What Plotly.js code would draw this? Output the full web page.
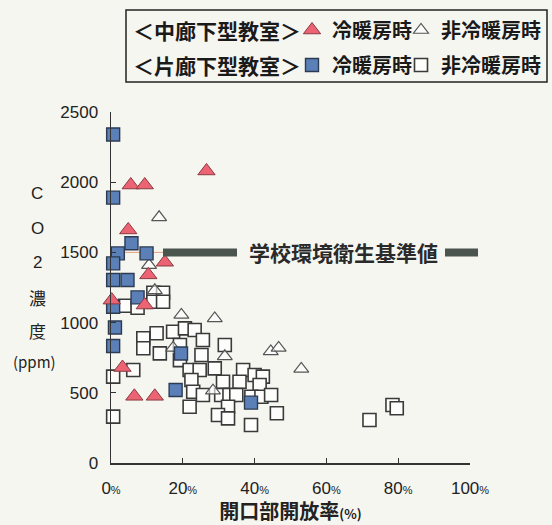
<!DOCTYPE html>
<html>
<head>
<meta charset="utf-8">
<script src="https://cdn.plot.ly/plotly-3.0.1.min.js"></script>
<style>html,body{margin:0;padding:0;background:#f6f6f1;}#chart{width:552px;height:525px;}</style>
</head>
<body>
<div id="chart"></div>
<script>
// ---- data ----
// 中廊下型教室 冷暖房時 (red filled triangles)
const midHeatX = [5.5, 9.4, 26.6, 4.8, 15.0, 10.4, 0.2, 9.4, 3.2, 6.5, 12.2];
const midHeatY = [1980, 1980, 2080, 1660, 1430, 1340, 1160, 1125, 680, 475, 475];
// 中廊下型教室 非冷暖房時 (open triangles)
const midOffX = [13.4, 10.6, 12.2, 19.6, 28.9, 17.3, 31.7, 28.4, 44.5, 46.7, 53.0];
const midOffY = [1750, 1410, 1230, 1055, 1030, 820, 760, 515, 795, 820, 670];
// 片廊下型教室 冷暖房時 (blue filled squares)
const sideHeatX = [0.6, 0.6, 5.7, 1.9, 9.9, 0.6, 0.6, 4.6, 7.4, 0.6, 1.1, 0.6, 18.0, 19.5, 39.0];
const sideHeatY = [2340, 1890, 1565, 1493, 1493, 1422, 1303, 1303, 1180, 1113, 965, 833, 520, 780, 430];
// 片廊下型教室 非冷暖房時 (open squares)
const sideOffX = [3.9, 7.4, 11.8, 14.5, 11.8, 14.5, 12.7, 17.3, 20.6, 23.3, 25.6, 9.0, 9.0, 13.6, 19.2, 19.2,
  25.2, 31.7, 21.9, 24.7, 28.9, 22.4, 31.2, 36.8, 40.0, 35.8, 22.9, 25.6, 30.7, 33.0, 34.9, 21.9, 32.6,
  29.8, 32.6, 39.0, 6.2, 0.6, 0.6, 42.3, 41.4, 39.1, 41.9, 44.6, 46.2, 72.0, 78.4, 79.6];
const sideOffY = [1120, 1106, 1213, 1213, 1149, 1149, 924, 935, 959, 947, 876, 888, 817, 781, 840, 733,
  769, 840, 662, 662, 674, 591, 579, 662, 627, 579, 508, 484, 484, 484, 484, 401, 401,
  342, 318, 271, 662, 615, 330, 615, 556, 472, 472, 484, 354, 306, 413, 390];

const xTickVals = [0, 20, 40, 60, 80, 100];
const xTickLabels = ['0', '20', '40', '60', '80', '100'];
const yTickVals = [0, 500, 1000, 1500, 2000, 2500];
const STANDARD = 1500;   // 学校環境衛生基準値
const standardLabel = '学校環境衛生基準値';
const yTitleParts = ['C', 'O', '2', '濃', '度', '(ppm)'];
const xTitle = '開口部開放率';
const groupMid = '＜中廊下型教室＞';
const groupSide = '＜片廊下型教室＞';
const nameHeat = '冷暖房時';
const nameOff = '非冷暖房時';

// ---- layout helpers (pixel -> paper / container) ----
const FW = 552, FH = 525;
const L = 111, T = 112, W = 359, H = 351;
const px = v => (v - L) / W;
const py = v => (T + H - v) / H;
const cx = v => v / FW;
const cy = v => 1 - v / FH;

const JP = '"Noto Sans CJK JP", "Noto Sans", sans-serif';
const NUM = '"Liberation Sans", Arial, sans-serif';

const traces = [
  {x: sideOffX, y: sideOffY, name: nameOff, legend: 'legend4', type: 'scatter', mode: 'markers', cliponaxis: false,
   marker: {symbol: 'square', size: 13, color: '#fdfdfb', line: {color: '#3a3a3a', width: 1.6}}},
  {x: midOffX, y: midOffY, name: nameOff, legend: 'legend3', type: 'scatter', mode: 'markers', cliponaxis: false,
   marker: {symbol: 'triangle-up', size: 13, color: 'rgba(255,255,255,0.6)', line: {color: '#555', width: 1.2}}},
  {x: sideHeatX, y: sideHeatY, name: nameHeat, legend: 'legend2', type: 'scatter', mode: 'markers', cliponaxis: false,
   marker: {symbol: 'square', size: 13, color: '#5b80b8', line: {color: '#2d3b52', width: 1.4}}},
  {x: midHeatX, y: midHeatY, name: nameHeat, legend: 'legend', type: 'scatter', mode: 'markers', cliponaxis: false,
   marker: {symbol: 'triangle-up', size: 15, color: '#ec6474', line: {color: '#8a3a40', width: 1}}}
];

const legFont = {family: JP, size: 20, color: '#1a1a1a', weight: 'bold'};
const legTitleFont = {family: JP, size: 21, color: '#1a1a1a', weight: 'bold'};

const annotations = [];
const yTitleY = [193, 228, 262, 297, 330, 361];
yTitleParts.forEach((t, i) => {
  annotations.push({text: t, xref: 'paper', yref: 'paper', x: px(i === 5 ? 34 : 37), y: py(yTitleY[i]),
    showarrow: false, xanchor: 'center', yanchor: 'middle',
    font: {family: i < 3 ? NUM : JP, size: i === 5 ? 15 : 17, color: '#222'}});
});
annotations.push({text: standardLabel, xref: 'paper', yref: 'y', x: px(343), y: STANDARD, showarrow: false,
  xanchor: 'center', yanchor: 'middle', font: {family: JP, size: 21, color: '#2a2a2a', weight: 'bold'}});
// legend group headings
[[groupMid, 30], [groupSide, 65]].forEach(([t, yy]) => {
  annotations.push({text: t, xref: 'paper', yref: 'paper', x: px(131), y: py(yy), showarrow: false,
    xanchor: 'left', yanchor: 'middle', font: legTitleFont});
});

const legendBase = {orientation: 'h', xanchor: 'left', yanchor: 'middle', xref: 'container', yref: 'container',
  bgcolor: 'rgba(0,0,0,0)', font: legFont, itemwidth: 30};

const layout = {
  width: FW, height: FH,
  paper_bgcolor: '#f6f6f1', plot_bgcolor: 'rgba(0,0,0,0)',
  margin: {l: L, r: FW - L - W, t: T, b: FH - T - H},
  showlegend: true,
  xaxis: {range: [0, 100], tickvals: xTickVals,
    ticktext: xTickLabels.map(s => s + '<span style="font-size:11px">%</span>'),
    ticks: 'inside', ticklen: 5, tickcolor: '#333', showline: true, linecolor: '#333', linewidth: 1.5,
    showgrid: false, zeroline: false, ticklabelstandoff: 9,
    tickfont: {family: NUM, size: 17, color: '#222'},
    title: {text: xTitle + '<span style="font-size:13px">(%)</span>', standoff: 9,
      font: {family: JP, size: 20, color: '#222', weight: 'bold'}}},
  yaxis: {range: [0, 2500], tickvals: yTickVals,
    ticks: 'inside', ticklen: 5, tickcolor: '#333', showline: true, linecolor: '#333', linewidth: 1.5,
    showgrid: false, zeroline: false, ticklabelstandoff: 8,
    tickfont: {family: NUM, size: 17, color: '#222'}},
  legend: Object.assign({}, legendBase, {x: cx(292), y: cy(30)}),
  legend2: Object.assign({}, legendBase, {x: cx(292), y: cy(65)}),
  legend3: Object.assign({}, legendBase, {x: cx(401), y: cy(30)}),
  legend4: Object.assign({}, legendBase, {x: cx(401), y: cy(65)}),
  shapes: [
    {type: 'rect', xref: 'paper', yref: 'paper', x0: px(126), x1: px(547), y0: py(10), y1: py(82),
     line: {color: '#222', width: 1.5}},
    {type: 'line', xref: 'paper', yref: 'y', x0: px(113), x1: px(163), y0: STANDARD, y1: STANDARD,
     line: {color: '#e6a07a', width: 1}, layer: 'below'},
    {type: 'line', xref: 'paper', yref: 'y', x0: px(163), x1: px(237), y0: STANDARD, y1: STANDARD,
     line: {color: '#4b5550', width: 8}},
    {type: 'line', xref: 'paper', yref: 'y', x0: px(445), x1: px(478), y0: STANDARD, y1: STANDARD,
     line: {color: '#4b5550', width: 8}}
  ],
  annotations: annotations
};

Plotly.newPlot('chart', traces, layout, {displayModeBar: false, staticPlot: true});
</script>
</body>
</html>
